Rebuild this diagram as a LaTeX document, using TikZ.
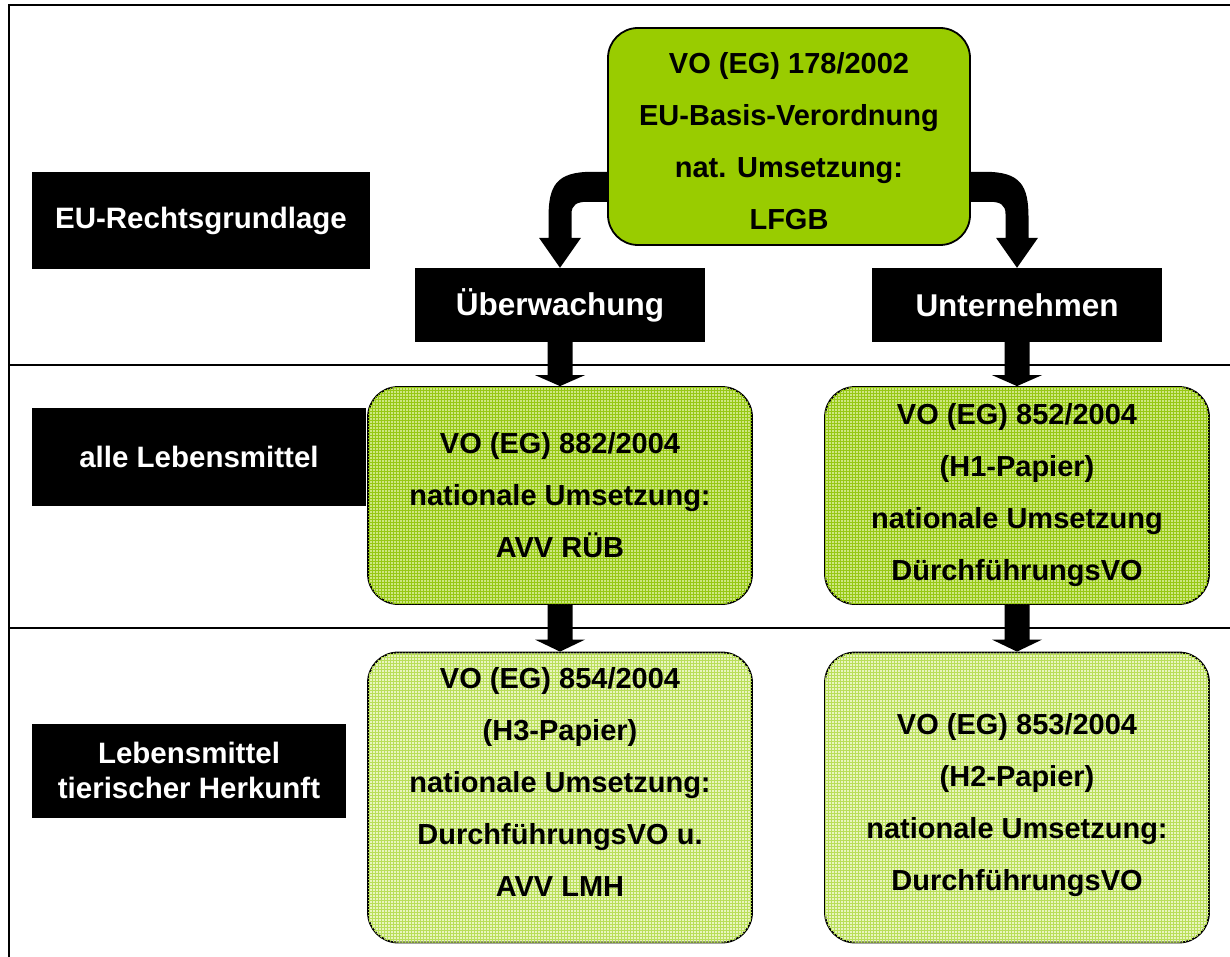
\documentclass[tikz,border=0pt]{standalone}
\usepackage{fontspec}
\setmainfont{Liberation Sans}
\usetikzlibrary{calc,patterns,backgrounds}

\definecolor{basisgreen}{RGB}{153,204,0}
\definecolor{midgreen}{RGB}{206,231,130}
\definecolor{midgrid}{RGB}{150,200,20}
\definecolor{lightgreen}{RGB}{233,245,192}
\definecolor{lightgrid}{RGB}{185,222,90}

\tikzset{
  rowhead/.style={fill=black, text=white, inner sep=0pt, align=center, font=\bfseries\fontsize{29.5}{35}\selectfont},
  branch/.style={fill=black, text=white, inner sep=0pt, minimum width=290pt, minimum height=74pt, font=\bfseries\fontsize{31.5}{36}\selectfont},
  greenbox/.style={draw=black, line width=1.8pt, rounded corners=30pt, inner sep=0pt, align=center, minimum width=384pt, font=\bfseries\fontsize{29}{52}\selectfont},
  basisbox/.style={greenbox, fill=basisgreen, minimum width=362pt, minimum height=217pt},
  midbox/.style={greenbox, fill=midgreen, postaction={pattern=grid, pattern color=midgrid}, minimum height=217pt},
  tierbox/.style={greenbox, fill=lightgreen, postaction={pattern=grid, pattern color=lightgrid}, minimum height=290pt}
}

\begin{document}
\begin{tikzpicture}[x=1pt, y=-1pt]
\useasboundingbox (0,0) rectangle (1230,957);


\node[midbox] (nat) at (560,495.5) {VO (EG) 882/2004\\nationale Umsetzung:\\AVV RÜB};

\node[midbox] (h1) at ($(nat) + (457, 0)$) {VO (EG) 852/2004\\(H1-Papier)\\nationale Umsetzung\\DürchführungsVO};

\node[tierbox] (h3) at ($(nat) + (0, 302)$) {VO (EG) 854/2004\\(H3-Papier)\\nationale Umsetzung:\\DurchführungsVO u.\\AVV LMH\\[-20pt]\mbox{}};

\node[tierbox] (h2) at ($(h1) + (0, 302)$) {\mbox{}\\[-15pt]VO (EG) 853/2004\\(H2-Papier)\\nationale Umsetzung:\\DurchführungsVO};

\node[branch] (ueb) at ($(nat) + (0, -190.5)$) {Überwachung};

\node[branch] (unt) at ($(h1) + (0, -190.5)$) {Unternehmen};

\node[basisbox] (basis) at ($(nat) + (229, -359)$) {\mbox{}\\[-22pt]VO (EG) 178/2002\\EU-Basis-Verordnung\\nat. Umsetzung:\\LFGB};

\node[rowhead, minimum width=338pt, minimum height=97pt] (eu) at (201,220.5) {EU-Rechtsgrundlage};

\node[rowhead, minimum width=334pt, minimum height=98pt] (alle) at ($(eu) + (-2, 236.5)$) {alle Lebensmittel};

\node[rowhead, minimum width=314pt, minimum height=94pt] (tier) at ($(eu) + (-12, 550)$) {Lebensmittel\\tierischer Herkunft};

\begin{pgfonlayer}{background}
% frame and rows
\draw[line width=2.2pt] (9,960) -- (9,5) -- (1235,5);
\draw[line width=1.6pt] (9,365) -- (1235,365);
\draw[line width=1.6pt] (9,628) -- (1235,628);

% bent arrows out of the basis box
\fill ($(basis.west) + (4, 35.5)$) -- ($(ueb.north) + (32, -96)$)
  .. controls ($(ueb.north) + (-4, -96)$) and ($(ueb.north) + (-11.5, -82)$) .. ($(ueb.north) + (-11.5, -50)$)
  -- ($(ueb.north) + (-11.5, -30)$) -- ($(ueb.north) + (-21, -30)$) -- (ueb.north)
  -- ($(ueb.north) + (21, -30)$) -- ($(ueb.north) + (11.5, -30)$) -- ($(ueb.north) + (11.5, -54)$)
  .. controls ($(ueb.north) + (11.5, -63)$) and ($(ueb.north) + (17, -66)$) .. ($(ueb.north) + (27, -66)$)
  -- ($(basis.west) + (4, 65.5)$) -- cycle;

\fill ($(basis.east) + (-4, 35.5)$) -- ($(unt.north) + (-32, -96)$)
  .. controls ($(unt.north) + (4, -96)$) and ($(unt.north) + (11.5, -82)$) .. ($(unt.north) + (11.5, -50)$)
  -- ($(unt.north) + (11.5, -30)$) -- ($(unt.north) + (21, -30)$) -- (unt.north)
  -- ($(unt.north) + (-21, -30)$) -- ($(unt.north) + (-11.5, -30)$) -- ($(unt.north) + (-11.5, -54)$)
  .. controls ($(unt.north) + (-11.5, -63)$) and ($(unt.north) + (-17, -66)$) .. ($(unt.north) + (-27, -66)$)
  -- ($(basis.east) + (-4, 65.5)$) -- cycle;

% straight arrows
\fill ($(ueb.south) + (-12.5, 0)$) -- ($(nat.north) + (-12.5, -11)$) -- ($(nat.north) + (-25, -11)$) -- (nat.north)
  -- ($(nat.north) + (25, -11)$) -- ($(nat.north) + (12.5, -11)$) -- ($(ueb.south) + (12.5, 0)$) -- cycle;
\fill ($(unt.south) + (-12.5, 0)$) -- ($(h1.north) + (-12.5, -11)$) -- ($(h1.north) + (-25, -11)$) -- (h1.north)
  -- ($(h1.north) + (25, -11)$) -- ($(h1.north) + (12.5, -11)$) -- ($(unt.south) + (12.5, 0)$) -- cycle;
\fill ($(nat.south) + (-12.5, 0)$) -- ($(h3.north) + (-12.5, -12)$) -- ($(h3.north) + (-25, -12)$) -- (h3.north)
  -- ($(h3.north) + (25, -12)$) -- ($(h3.north) + (12.5, -12)$) -- ($(nat.south) + (12.5, 0)$) -- cycle;
\fill ($(h1.south) + (-12.5, 0)$) -- ($(h2.north) + (-12.5, -12)$) -- ($(h2.north) + (-25, -12)$) -- (h2.north)
  -- ($(h2.north) + (25, -12)$) -- ($(h2.north) + (12.5, -12)$) -- ($(h1.south) + (12.5, 0)$) -- cycle;
\end{pgfonlayer}

\end{tikzpicture}
\end{document}
